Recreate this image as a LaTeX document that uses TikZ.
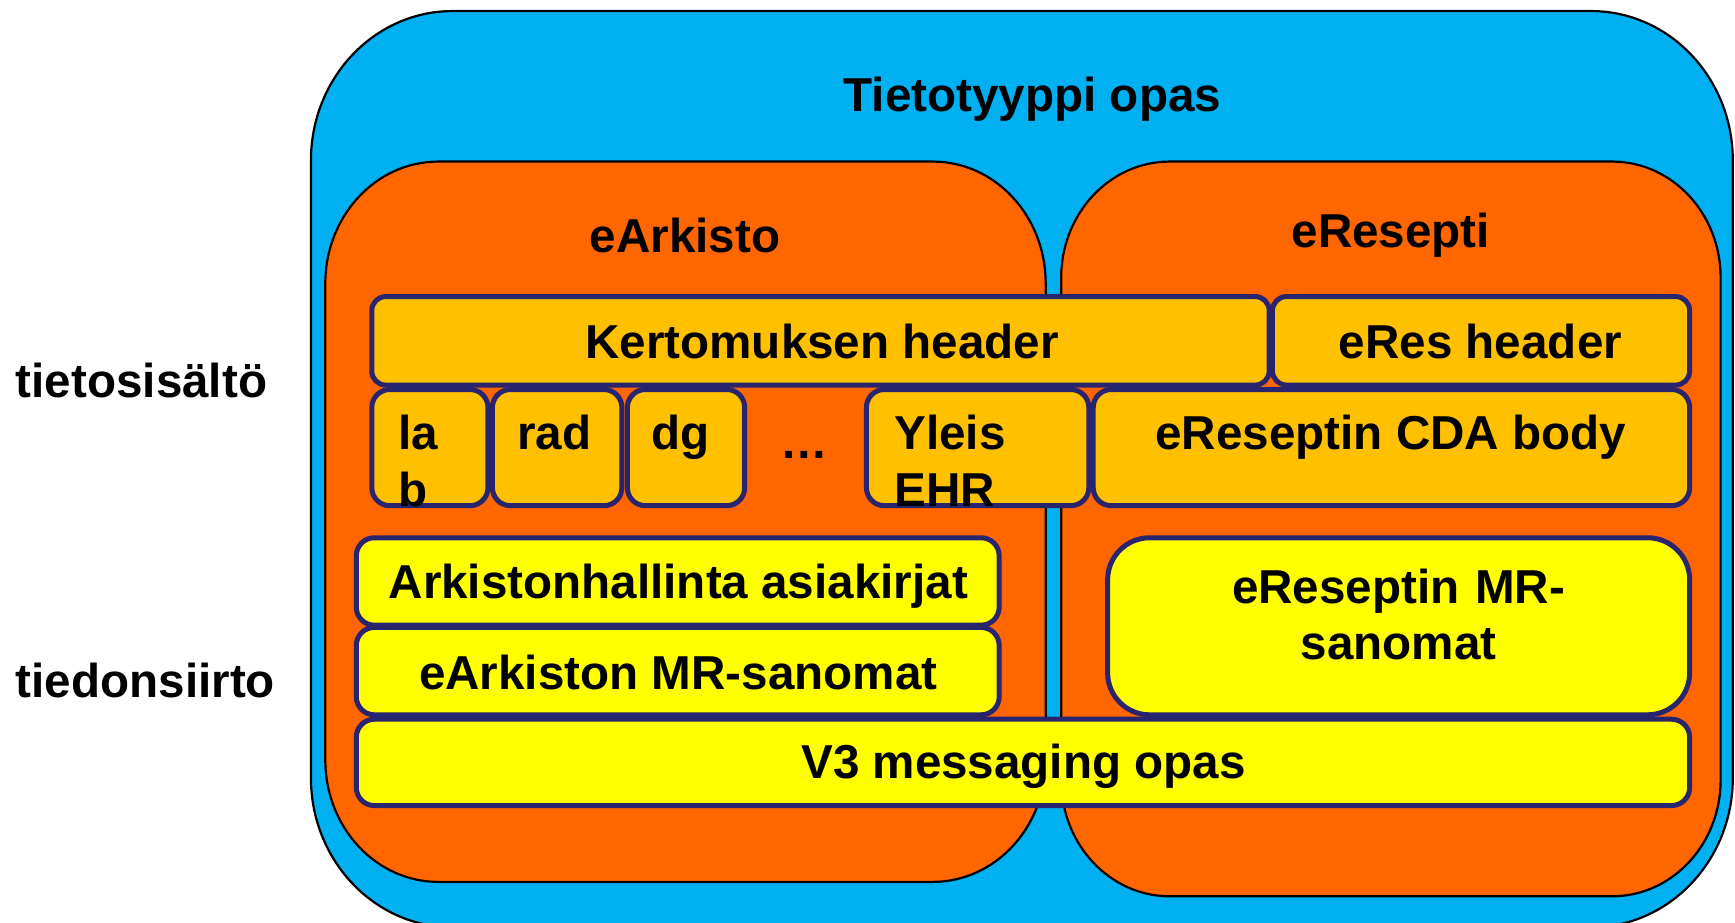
\documentclass[tikz,border=0pt]{standalone}
\usepackage{fontspec}
\setmainfont{Liberation Sans}
\definecolor{skyb}{HTML}{00B0F0}
\definecolor{orng}{HTML}{FF6600}
\definecolor{hdrfill}{HTML}{FFC000}
\definecolor{ylw}{HTML}{FFFF00}
\definecolor{navyb}{RGB}{40,36,110}
% elliptical-corner box: x1 y1 x2 y2 rx ry style
\newcommand\ellbox[7]{%
 \filldraw[#7] (#1+#5,#2) -- (#3-#5,#2)
  .. controls (#3-0.448*#5,#2) and (#3,#2+0.448*#6) .. (#3,#2+#6)
  -- (#3,#4-#6)
  .. controls (#3,#4-0.448*#6) and (#3-0.448*#5,#4) .. (#3-#5,#4)
  -- (#1+#5,#4)
  .. controls (#1+0.448*#5,#4) and (#1,#4-0.448*#6) .. (#1,#4-#6)
  -- (#1,#2+#6)
  .. controls (#1,#2+0.448*#6) and (#1+0.448*#5,#2) .. (#1+#5,#2) -- cycle;}
% box node: name style x1 y1 x2 y2
\newcommand\bx[6]{\node[#2, minimum width={(#5-#3)*0.5533pt}, minimum height={(#6-#4)*0.5533pt}] (#1) at ({(#3+#5)/2},{(#4+#6)/2}) {};}
\tikzset{
  bigbox/.style={fill=#1, draw=black, line width=1.1pt},
  hdrbox/.style={draw=navyb, line width=2.5pt, fill=hdrfill, rounded corners=7pt, inner sep=0pt},
  secbox/.style={draw=navyb, line width=2.5pt, fill=hdrfill, rounded corners=9pt, inner sep=0pt},
  ylwbox/.style={draw=navyb, line width=2.5pt, fill=ylw, rounded corners=9pt, inner sep=0pt},
  txt/.style={inner sep=0pt, text=black},
}
\begin{document}
\begin{tikzpicture}[x=0.5533pt, y=-0.5533pt, font=\fontsize{23.8}{28.4}\selectfont\bfseries]
\useasboundingbox (0,0) rectangle (1568,834);
\clip (0,0) rectangle (1568,834);
\fill[white] (0,0) rectangle (1568,834);
% containers
\ellbox{281}{10}{1566}{838}{128}{135}{bigbox=skyb}
\ellbox{294}{146}{945}{797}{102}{110}{bigbox=orng}
\ellbox{959}{146}{1555}{810}{98}{105}{bigbox=orng}
% headers
\bx{kert}{hdrbox}{336}{268}{1147}{348}
\bx{eresh}{hdrbox}{1150}{268}{1527}{348}
% sections
\bx{lab}{secbox}{336}{352}{441}{457}
\bx{rad}{secbox}{445}{352}{562}{457}
\bx{dg}{secbox}{567}{352}{673}{457}
\bx{yleis}{secbox}{783}{352}{984}{457}
\bx{cda}{secbox}{988}{352}{1527}{457}
% transport
\bx{arkh}{ylwbox}{322}{486}{903}{565}
\bx{earkmr}{ylwbox}{322}{567}{903}{646}
\node[ylwbox, rounded corners=21pt, minimum width={526*0.5533pt}, minimum height={160*0.5533pt}] (eresmr) at (1264,566) {};
\bx{v3}{ylwbox}{322}{650}{1527}{728}
% texts
\node[txt, anchor=base] (t-title) at (933,101) {Tietotyyppi opas};
\node[txt, anchor=base] (t-eark) at (619,228) {eArkisto};
\node[txt, anchor=base] (t-eres) at (1257,224) {eResepti};
\node[txt, anchor=base west] (t-sis) at (14,359) {tietosisältö};
\node[txt, anchor=base west] (t-siirto) at (14,630) {tiedonsiirto};
\node[txt, anchor=base] (t-kert) at (743,324) {Kertomuksen header};
\node[txt, anchor=base] (t-eresh) at (1338,324) {eRes header};
\node[txt, anchor=base west, text width=40pt, align=left] (t-lab) at (360,406) {la\\b};
\node[txt, anchor=base] (t-rad) at (501,406) {rad};
\node[txt, anchor=base] (t-dg) at (615,406) {dg};
\node[txt, anchor=base] (t-dots) at (727,414) {…};
\node[txt, anchor=base west, text width=80pt, align=left] (t-yleis) at (808,406) {Yleis\\EHR};
\node[txt, anchor=base] (t-cda) at (1257,406) {eReseptin CDA body};
\node[txt, anchor=base] (t-arkh) at (613,541) {Arkistonhallinta asiakirjat};
\node[txt, anchor=base] (t-earkmr) at (613,623) {eArkiston MR-sanomat};
\node[txt, anchor=base, text width=250pt, align=center] (t-eresmr) at (1264,545) {eReseptin MR-\\sanomat};
\node[txt, anchor=base] (t-v3) at (925,704) {V3 messaging opas};
\end{tikzpicture}
\end{document}
